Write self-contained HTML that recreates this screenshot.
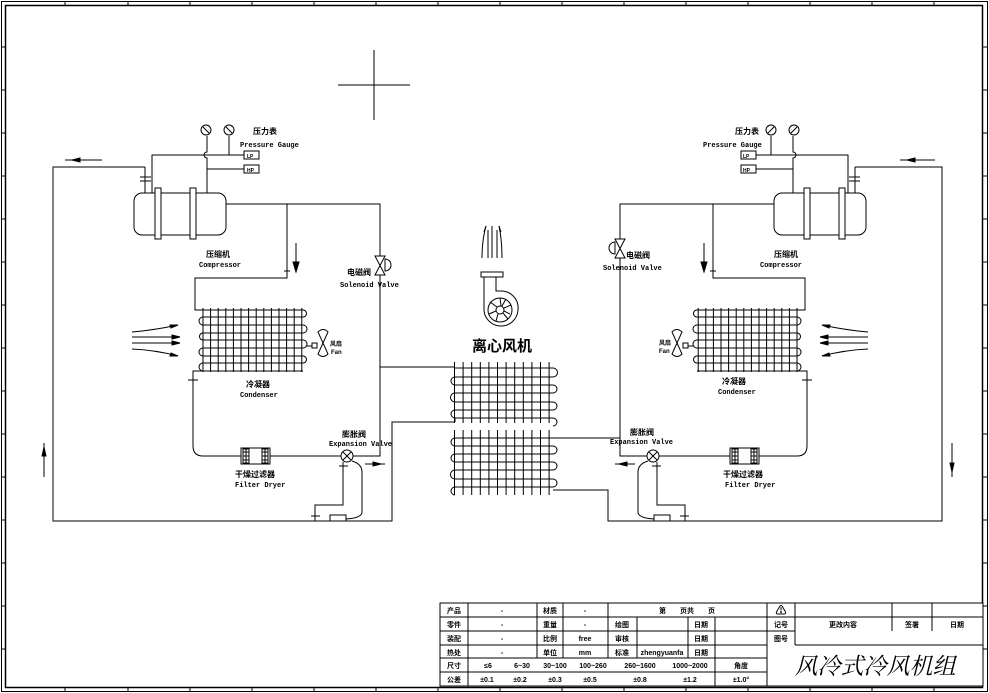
<!DOCTYPE html>
<html><head><meta charset="utf-8">
<style>
html,body{margin:0;padding:0;background:#fff;}
svg{display:block;}
text{font-family:"Liberation Sans","Noto Sans CJK SC",sans-serif;fill:#000;}
.en{font-family:"Liberation Mono","Noto Sans CJK SC",monospace;font-size:7px;font-weight:bold;}
.cn{font-size:8px;font-weight:bold;}
.tb{font-size:7px;font-weight:bold;}
</style></head><body>
<svg width="989" height="693" viewBox="0 0 989 693" xmlns="http://www.w3.org/2000/svg">
<defs>
<g id="sys" fill="none" stroke="#000" stroke-width="1">
  <!-- compressor -->
  <rect x="134" y="193" width="92" height="42" rx="8" fill="#fff"/>
  <rect x="155" y="188" width="6" height="51" fill="#fff"/>
  <rect x="190" y="188" width="6" height="51" fill="#fff"/>
  <path d="M145,167V193"/>
  <path d="M140,177H151M140,181H151"/>
  <path d="M152,193V155H244"/>
  <path d="M207,136V152a3,3 0 0 0 0,6V193M207,169H244"/>
  <path d="M229,136V155"/>
  <circle cx="206" cy="130" r="5"/><path d="M203,127L209,133"/>
  <circle cx="229" cy="130" r="5"/><path d="M226,127L232,133"/>
  <rect x="244" y="151" width="15" height="8"/>
  <rect x="244" y="165" width="15" height="8"/>
  <!-- discharge -->
  <path d="M226,204H380V456H353"/>
  <path d="M287,204V278H195V310H303"/>
  <path d="M284,271H290"/>
  <path d="M296,243V270"/><path d="M293,262L296,272L299,262Z" fill="#000"/>
  <!-- condenser coil -->
  <line x1="202.5" y1="340" x2="304" y2="340" stroke-width="64" stroke-dasharray="1 6.6"/>
  <path d="M303,310A3.5,3.5 0 0 1 303,317H203A4,4 0 0 0 203,325H303A4,4 0 0 1 303,333H203A3.5,3.5 0 0 0 203,340H303A4,4 0 0 1 303,348H203A4,4 0 0 0 203,356H303A3.5,3.5 0 0 1 303,363H203A4,4 0 0 0 203,371H303"/>
  <path d="M303,371H193V446Q193,456 203,456H341"/>
  <path d="M188,380H198"/>
  <!-- fan -->
  <path d="M306,346H312"/>
  <rect x="312" y="343" width="5" height="5"/>
  <path d="M323,343L318,332Q323,327 328,332L323,343L318,354Q323,359 328,354Z"/>
  <!-- filter -->
  <rect x="241" y="448" width="29" height="16" fill="#fff"/>
  <rect x="243" y="449" width="6" height="14"/><rect x="262" y="449" width="6" height="14"/>
  <path d="M243,452H249M243,456H249M243,460H249M262,452H268M262,456H268M262,460H268M246,449V463M265,449V463"/>
  <!-- expansion valve -->
  <circle cx="347" cy="456" r="6" fill="#fff"/>
  <path d="M343,452L351,460M351,452L343,460"/>
  <path d="M343,462V505H315V521"/>
  <path d="M339,466H348M311,516H320"/>
  <rect x="330" y="515" width="16" height="6"/>
  <path d="M352,461Q362,464 362,472V512Q362,518 346,519"/>
  <path d="M365,464H385"/><path d="M373,462L381,464L373,466Z" fill="#000"/>
  <!-- air arrows -->
  <path d="M132,332Q155,330 178,325M132,337H180M132,343H180M132,349Q155,350 178,356"/>
  <path d="M170,325L178,325L171,328Z M172,335L180,337L172,339Z M172,341L180,343L172,345Z M170,356L178,356L171,353Z" fill="#000"/>
</g>
</defs>

<!-- border -->
<rect x="1.5" y="1.5" width="986" height="690" fill="none" stroke="#000"/>
<rect x="5.5" y="5.5" width="977" height="682" fill="none" stroke="#000" stroke-width="1.5"/>
<path d="M65,1V5M128,1V5M190,1V5M252,1V5M314,1V5M376,1V5M438,1V5M500,1V5M562,1V5M624,1V5M686,1V5M748,1V5M810,1V5M872,1V5M934,1V5
M1,47H5M1,90H5M1,133H5M1,176H5M1,219H5M1,262H5M1,305H5M1,348H5M1,391H5M1,434H5M1,477H5M1,520H5M1,563H5M1,606H5M1,649H5
M983,47H987M983,90H987M983,133H987M983,176H987M983,219H987M983,262H987M983,305H987M983,348H987M983,391H987M983,434H987M983,477H987M983,520H987M983,563H987M983,606H987M983,649H987
M65,688V692M128,688V692M190,688V692M252,688V692M314,688V692M376,688V692M438,688V692M500,688V692M562,688V692M624,688V692M686,688V692M748,688V692M810,688V692M872,688V692M934,688V692" stroke="#000"/>

<!-- crosshair -->
<path d="M338,85H410M374,50V120" stroke="#000"/>

<use href="#sys"/>
<use href="#sys" transform="translate(1000,0) scale(-1,1)"/>

<g fill="none" stroke="#000">
  <!-- left outer loop -->
  <path d="M145,167H53V521H392V422H455"/>
  <path d="M380,367H455"/>
  <path d="M65,160H102"/><path d="M80,158L72,160L80,162Z" fill="#000"/>
  <path d="M44,443V477"/><path d="M42,456L44,447L46,456Z" fill="#000"/>
  <!-- right outer loop -->
  <path d="M855,167H942V521H608V490H553"/>
  <path d="M620,438H553"/>
  <path d="M900,160H935"/><path d="M915,158L907,160L915,162Z" fill="#000"/>
  <path d="M952,443V477"/><path d="M950,463L952,472L954,463Z" fill="#000"/>
  <!-- solenoid valves -->
  <rect x="376" y="256" width="8" height="19" fill="#fff" stroke="none"/>
  <path d="M375,256H385L375,275H385Z" fill="#fff"/>
  <path d="M385,259A6,6 0 0 1 385,271Z" fill="#fff"/>
  <rect x="616" y="239" width="8" height="19" fill="#fff" stroke="none"/>
  <path d="M615,239H625L615,258H625Z" fill="#fff"/>
  <path d="M615,242A6,6 0 0 0 615,254Z" fill="#fff"/>
  <!-- evaporator upper -->
  <line x1="454" y1="392.5" x2="554" y2="392.5" stroke-width="61" stroke-dasharray="1 7.6"/>
  <path d="M455,368H553A4.5,4.5 0 0 1 553,377H455A4,4 0 0 0 455,385H553A4,4 0 0 1 553,393H455A4.5,4.5 0 0 0 455,402H553A4,4 0 0 1 553,410H455A4,4 0 0 0 455,418H553A4,4 0 0 1 553,426"/>
  <path d="M455,418V422"/>
  <!-- evaporator lower -->
  <line x1="454" y1="462.5" x2="554" y2="462.5" stroke-width="65" stroke-dasharray="1 7.6"/>
  <path d="M553,438H455A4,4 0 0 0 455,446H553A4,4 0 0 1 553,454H455A4,4 0 0 0 455,462H553A4,4 0 0 1 553,470H455A4.5,4.5 0 0 0 455,479H553A4,4 0 0 1 553,487H455A4,4 0 0 0 455,495"/>
  <!-- centrifugal fan -->
  <rect x="481" y="272" width="22" height="5"/>
  <path d="M484,277V308A17,17 0 0 0 518,310A17,17 0 0 0 500,291H496V277"/>
  <circle cx="500" cy="310" r="12"/>
  <circle cx="500" cy="310" r="4"/>
  <path d="M500,298L501,306M511,305L504,308M508,319L503,313M496,321L498,314M489,314L496,311M490,302L497,307M506,299L502,306M510,314L504,311"/>
  <path d="M482,258Q482,240 486,226M488,258V230M492,258V226M497,258V230M502,258Q502,240 499,226"/>
  <path d="M486,226L484,232M499,226L501,232"/>
</g>

<!-- labels left -->
<text class="cn" x="253" y="134">压力表</text>
<text class="en" x="240" y="147">Pressure Gauge</text>
<text x="247" y="158" style="font-size:5px;font-weight:bold">LP</text>
<text x="247" y="172" style="font-size:5px;font-weight:bold">HP</text>
<text class="cn" x="206" y="257">压缩机</text>
<text class="en" x="199" y="267">Compressor</text>
<text class="cn" x="347" y="275">电磁阀</text>
<text class="en" x="340" y="287">Solenoid Valve</text>
<text x="330" y="346" style="font-size:6px;font-weight:bold">风扇</text>
<text x="331" y="354" style="font-size:6px;font-weight:bold">Fan</text>
<text class="cn" x="246" y="387">冷凝器</text>
<text class="en" x="240" y="397">Condenser</text>
<text class="cn" x="342" y="437">膨胀阀</text>
<text class="en" x="329" y="446">Expansion Valve</text>
<text class="cn" x="235" y="477">干燥过滤器</text>
<text class="en" x="235" y="487">Filter Dryer</text>
<!-- labels right -->
<text class="cn" x="735" y="134">压力表</text>
<text class="en" x="703" y="147">Pressure Gauge</text>
<text x="743" y="158" style="font-size:5px;font-weight:bold">LP</text>
<text x="743" y="172" style="font-size:5px;font-weight:bold">HP</text>
<text class="cn" x="774" y="257">压缩机</text>
<text class="en" x="760" y="267">Compressor</text>
<text class="cn" x="626" y="258">电磁阀</text>
<text class="en" x="603" y="270">Solenoid Valve</text>
<text x="659" y="345" style="font-size:6px;font-weight:bold">风扇</text>
<text x="659" y="353" style="font-size:6px;font-weight:bold">Fan</text>
<text class="cn" x="722" y="384">冷凝器</text>
<text class="en" x="718" y="394">Condenser</text>
<text class="cn" x="630" y="435">膨胀阀</text>
<text class="en" x="610" y="444">Expansion Valve</text>
<text class="cn" x="723" y="477">干燥过滤器</text>
<text class="en" x="725" y="487">Filter Dryer</text>
<text x="472" y="351" style="font-size:15px;font-weight:bold">离心风机</text>

<!-- title block -->
<g fill="none" stroke="#000">
  <rect x="440" y="603" width="543" height="83" fill="#fff"/>
  <path d="M440,617H983M440,631H795M892,617V631M795,645H983M440,645H767M440,658H767M440,672H767"/>
  <path d="M468,603V686M537,603V658M563,603V658M608,603V658M637,617V658M688,617V658M715,617V686M767,603V686M795,603V645M892,603V631M932,603V631"/>
</g>
<g class="tb" text-anchor="middle">
  <text x="454" y="613">产品</text><text x="502" y="613">-</text><text x="550" y="613">材质</text><text x="585" y="613">-</text><text x="687" y="613">第　　页共　　页</text>
  <text x="454" y="627">零件</text><text x="502" y="627">-</text><text x="550" y="627">重量</text><text x="585" y="627">-</text><text x="622" y="627">绘图</text><text x="701" y="627">日期</text>
  <text x="454" y="641">装配</text><text x="502" y="641">-</text><text x="550" y="641">比例</text><text x="585" y="641">free</text><text x="622" y="641">审核</text><text x="701" y="641">日期</text>
  <text x="454" y="655">热处</text><text x="502" y="655">-</text><text x="550" y="655">单位</text><text x="585" y="655">mm</text><text x="622" y="655">标准</text><text x="662" y="655">zhengyuanfa</text><text x="701" y="655">日期</text>
  <text x="454" y="668">尺寸</text><text x="488" y="668">≤6</text><text x="522" y="668">6~30</text><text x="555" y="668">30~100</text><text x="593" y="668">100~260</text><text x="640" y="668">260~1600</text><text x="690" y="668">1000~2000</text><text x="741" y="668">角度</text>
  <text x="454" y="682">公差</text><text x="487" y="682">±0.1</text><text x="520" y="682">±0.2</text><text x="555" y="682">±0.3</text><text x="590" y="682">±0.5</text><text x="640" y="682">±0.8</text><text x="690" y="682">±1.2</text><text x="741" y="682">±1.0°</text>
  <text x="781" y="614" style="font-size:11px">⚠</text>
  <text x="781" y="627">记号</text><text x="843" y="627">更改内容</text><text x="912" y="627">签署</text><text x="957" y="627">日期</text>
  <text x="781" y="641">图号</text>
</g>
<text x="875" y="674" text-anchor="middle" style="font-size:23px;font-style:italic;font-family:'Noto Serif CJK SC','Noto Sans CJK SC',serif">风冷式冷风机组</text>
</svg>
</body></html>
